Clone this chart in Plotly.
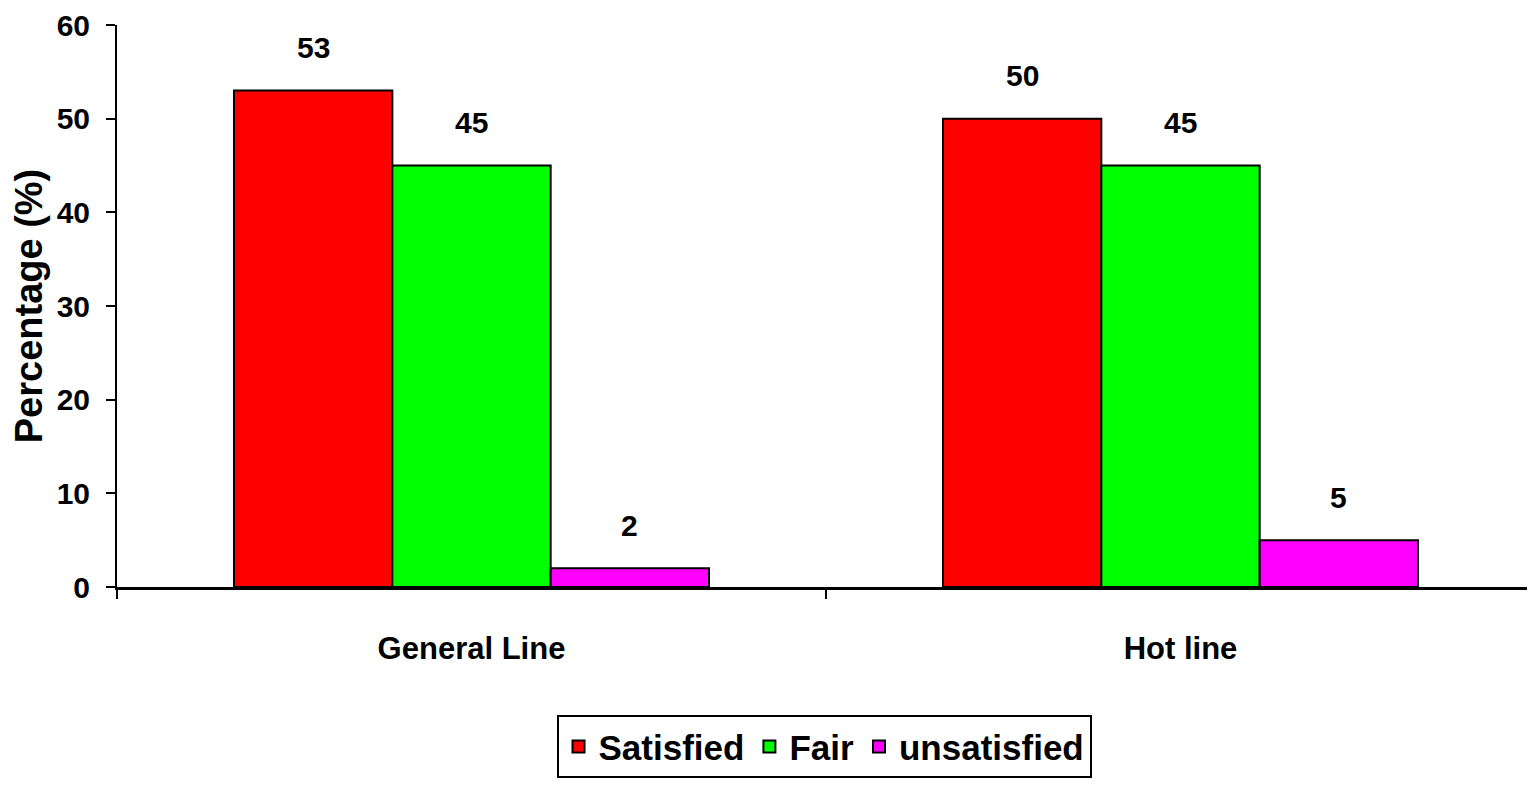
import plotly.graph_objects as go

categories = ["General Line", "Hot line"]
series_names = ["Satisfied", "Fair", "unsatisfied"]
satisfied = [53, 50]
fair = [45, 45]
unsatisfied = [2, 5]
colors = ["#FF0000", "#00FF00", "#FF00FF"]
y_ticks = [0, 10, 20, 30, 40, 50, 60]

FONT = "Liberation Sans, Arial, sans-serif"
BARGAP = 0.33
PLOT_W = 1535 - 109 - 8
BAR_W = PLOT_W / len(categories) * (1 - BARGAP) / len(series_names)

fig = go.Figure()
all_vals = [satisfied, fair, unsatisfied]
for i, (name, vals, col) in enumerate(zip(series_names, all_vals, colors)):
    fig.add_trace(go.Bar(
        x=categories, y=vals, name=name,
        marker=dict(color=col, line=dict(color="black", width=2)),
    ))
    for cat, v in zip(categories, vals):
        fig.add_annotation(
            x=cat, y=v, text=str(v), showarrow=False,
            xshift=(i - 1) * BAR_W, yshift=43, yanchor="middle",
            font=dict(family=FONT, size=30, color="black", weight="bold"),
        )

fig.update_layout(
    width=1535, height=795,
    margin=dict(l=109, r=8, t=17, b=216, autoexpand=False),
    plot_bgcolor="white", paper_bgcolor="white",
    barmode="group", bargap=BARGAP, bargroupgap=0,
    font=dict(family=FONT, color="black", weight="bold"),
    showlegend=True,
    legend=dict(
        orientation="h", x=0.4986, xanchor="center", y=-0.228, yanchor="top",
        font=dict(family=FONT, size=35, color="black", weight="bold"),
        bordercolor="black", borderwidth=2,
        traceorder="normal",
    ),
    xaxis=dict(
        automargin=False,
        showline=True, linecolor="black", linewidth=3,
        ticks="outside", tickson="boundaries", ticklen=9, tickwidth=2, tickcolor="black",
        tickfont=dict(family=FONT, size=31, color="black", weight="bold"),
        ticklabelstandoff=32,
    ),
    yaxis=dict(
        automargin=False,
        range=[0, 60], tickvals=y_ticks, showgrid=False, zeroline=False,
        showline=True, linecolor="black", linewidth=2,
        ticks="outside", ticklen=9, tickwidth=2, tickcolor="black",
        tickfont=dict(family=FONT, size=30, color="black", weight="bold"),
        ticklabelstandoff=10,
        title=dict(text="Percentage (%)", font=dict(family=FONT, size=38, color="black", weight="bold"), standoff=22),
    ),
)

fig.write_html("out.html")
